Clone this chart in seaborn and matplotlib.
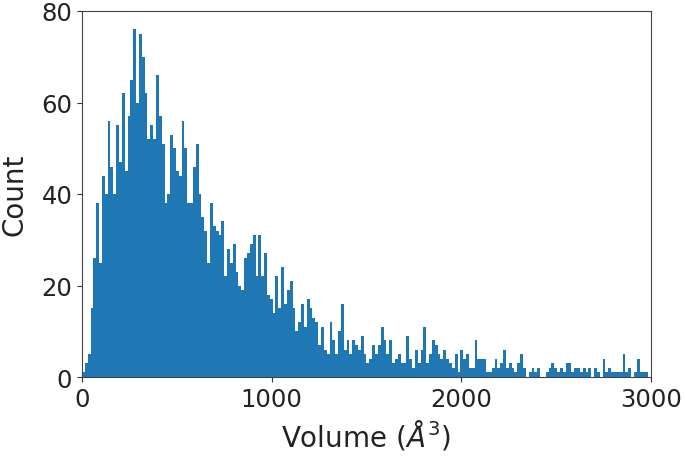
import numpy as np
import pandas as pd
import matplotlib
matplotlib.use("Agg")
import matplotlib.pyplot as plt
import seaborn as sns

# Histogram of volumes: bin width 15 (Å^3), bins from 0 to 3000
bin_width = 15
counts = [
    1, 3, 5, 15, 26, 38, 25, 44, 40, 56,
    46, 40, 55, 47, 62, 45, 57, 65, 76, 60,
    75, 70, 62, 52, 55, 52, 66, 57, 51, 38,
    40, 53, 50, 45, 44, 56, 50, 38, 38, 46,
    51, 40, 35, 32, 25, 38, 33, 32, 31, 34,
    22, 28, 25, 29, 23, 20, 19, 26, 27, 29,
    31, 22, 31, 22, 27, 18, 17, 14, 22, 15,
    24, 16, 19, 21, 15, 10, 12, 16, 11, 17,
    15, 13, 12, 7, 11, 6, 5, 12, 8, 5,
    10, 16, 6, 8, 5, 8, 7, 6, 9, 5,
    3, 4, 7, 5, 7, 11, 8, 5, 8, 3,
    4, 5, 3, 3, 9, 4, 2, 6, 3, 6,
    11, 3, 5, 8, 7, 5, 4, 6, 4, 3,
    2, 5, 1, 6, 4, 5, 2, 2, 8, 4,
    4, 4, 1, 1, 2, 4, 2, 3, 6, 2,
    3, 2, 1, 3, 5, 2, 0, 1, 2, 1,
    2, 0, 0, 1, 2, 3, 2, 1, 2, 1,
    3, 3, 1, 2, 2, 1, 2, 1, 2, 0,
    2, 1, 0, 4, 1, 2, 1, 1, 1, 1,
    5, 1, 2, 0, 1, 4, 1, 1, 1, 0,
]
centers = np.arange(len(counts)) * bin_width + bin_width / 2

df = pd.DataFrame({"volume": centers, "count": counts})

plt.rcParams["font.family"] = ["DejaVu Sans"]

fig, ax = plt.subplots(figsize=(6.85, 4.6), dpi=100)
sns.histplot(data=df, x="volume", weights="count",
             binwidth=bin_width, binrange=(0, 3000),
             color="#1f77b4", alpha=1, linewidth=0, ax=ax)

ax.set_xlim(0, 3000)
ax.set_ylim(0, 80)
ax.set_xticks([0, 1000, 2000, 3000])
ax.set_yticks([0, 20, 40, 60, 80])
ax.tick_params(labelsize=17.5, colors="#333333", labelcolor="#222222")
for s in ax.spines.values():
    s.set_color("#444444")
ax.set_xlabel(r"Volume ($\AA^3$)", fontsize=20, labelpad=5, color="#222222")
ax.set_ylabel("Count", fontsize=20, labelpad=9, color="#222222")

plt.subplots_adjust(left=82/685, right=651/685, bottom=1-378/460, top=1-12/460)
fig.savefig("out.png", dpi=100)
